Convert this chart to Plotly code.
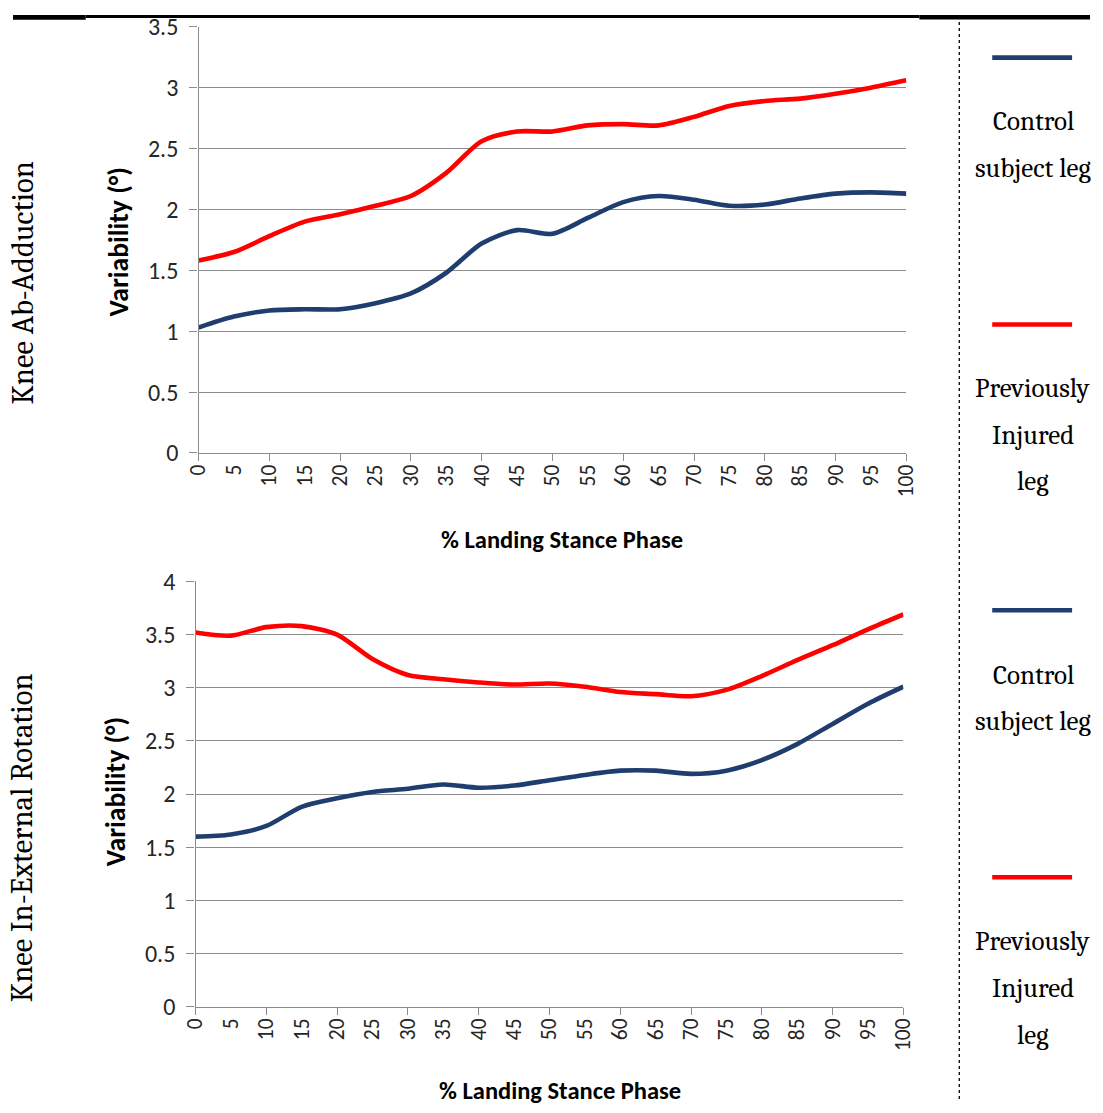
import plotly.graph_objects as go

phase = list(range(0, 101, 5))
x_tick_labels = [str(v) for v in phase]

abad_control = [1.03, 1.12, 1.17, 1.18, 1.18, 1.23, 1.31, 1.48, 1.72, 1.83, 1.80,
                1.93, 2.06, 2.11, 2.08, 2.03, 2.04, 2.09, 2.13, 2.14, 2.13]
abad_injured = [1.58, 1.65, 1.78, 1.90, 1.96, 2.03, 2.11, 2.30, 2.56, 2.64, 2.64,
                2.69, 2.70, 2.69, 2.76, 2.85, 2.89, 2.91, 2.95, 3.00, 3.06]
rot_control = [1.60, 1.62, 1.70, 1.88, 1.96, 2.02, 2.05, 2.09, 2.06, 2.08, 2.13,
               2.18, 2.22, 2.22, 2.19, 2.22, 2.32, 2.47, 2.66, 2.85, 3.01]
rot_injured = [3.52, 3.49, 3.57, 3.58, 3.50, 3.27, 3.12, 3.08, 3.05, 3.03, 3.04,
               3.01, 2.96, 2.94, 2.92, 2.98, 3.11, 3.26, 3.40, 3.55, 3.69]

row_titles = ["Knee Ab-Adduction", "Knee In-External Rotation"]
y_title = "Variability (°)"
x_title = "% Landing Stance Phase"
legend_control = ["Control", "subject leg"]
legend_injured = ["Previously", "Injured", "leg"]

BLUE = "#1F3D6E"
RED = "#FF0000"
GRID = "#8C8C8C"
SANS = "Calibri, Carlito, Liberation Sans, Arial, sans-serif"
SERIF = "Cambria, Caladea, Liberation Serif, serif"

W, H = 1103, 1113
# the photographed page is shown slightly reduced with a small white border;
# layout positions are expressed in reference pixels and converted here
OFF, S = 12.2, 0.978

def PX(r):
    return (r - OFF) / S

def fx(r):
    return PX(r) / W

def fy(r):
    return 1 - PX(r) / H

def fs(v):
    return v / S

XTICKFONT = dict(family=SANS, size=fs(21), color="#262626")
YTICKFONT = dict(family=SANS, size=fs(23.5), color="#262626")
LW = fs(4.5)

fig = go.Figure()
for xs, ys, data, col in (("x", "y", abad_control, BLUE), ("x", "y", abad_injured, RED),
                          ("x2", "y2", rot_control, BLUE), ("x2", "y2", rot_injured, RED)):
    fig.add_trace(go.Scatter(x=phase, y=data, mode="lines",
                             line=dict(color=col, width=LW, shape="spline", smoothing=0.8),
                             xaxis=xs, yaxis=ys, showlegend=False, hoverinfo="skip"))

def xaxis(domain, anchor):
    return dict(domain=domain, anchor=anchor, range=[0, 100], tickvals=phase, ticktext=x_tick_labels,
                tickangle=-90, tickfont=XTICKFONT, showgrid=False, zeroline=False,
                showline=True, linecolor=GRID, linewidth=1.3, ticks="", ticklabelstandoff=2,
                minor=dict(tickvals=list(range(0, 101, 10)), ticks="outside", ticklen=fs(7),
                           tickcolor=GRID, showgrid=False))

def yaxis(domain, anchor, top):
    return dict(domain=domain, anchor=anchor, range=[0, top], dtick=0.5, tickfont=YTICKFONT,
                showgrid=True, gridcolor=GRID, gridwidth=1.2, zeroline=False,
                showline=True, linecolor=GRID, linewidth=1.3, ticks="outside", ticklen=fs(8),
                tickcolor=GRID, ticklabelstandoff=6)

fig.update_layout(
    width=W, height=H, margin=dict(l=0, r=0, t=0, b=0),
    paper_bgcolor="white", plot_bgcolor="white",
    xaxis=xaxis([fx(198), fx(907)], "y"),
    yaxis=yaxis([fy(452), fy(24)], "x", 3.5),
    xaxis2=xaxis([fx(195), fx(904)], "y2"),
    yaxis2=yaxis([fy(1008), fy(581)], "x2", 4),
)

ann = []
def add_text(text, rx, ry, size, family, bold=False, angle=0):
    ann.append(dict(text=f"<b>{text}</b>" if bold else text, x=fx(rx), y=fy(ry), xref="paper", yref="paper",
                    showarrow=False, textangle=angle, font=dict(size=size, family=family, color="#000000"),
                    xanchor="center", yanchor="middle"))

add_text(y_title, 118, 240, fs(27), SANS, True, -90)
add_text(y_title, 115, 792, fs(27), SANS, True, -90)
add_text(x_title, 562, 539, fs(24), SANS, True)
add_text(x_title, 560, 1093, fs(24), SANS, True)
add_text(row_titles[0], 22, 281, fs(30), SERIF, False, -90)
add_text(row_titles[1], 22, 838, fs(30), SERIF, False, -90)

for base in (0, 556):
    for i, t in enumerate(legend_control):
        add_text(t, 1034, base + 119 + 47 * i, 27, SERIF)
    for i, t in enumerate(legend_injured):
        add_text(t, 1034, base + 387 + 47 * i, 27, SERIF)

shapes = []
for ly, col in ((55, BLUE), (323, RED), (610, BLUE), (878, RED)):
    shapes.append(dict(type="line", xref="paper", yref="paper", x0=fx(993), x1=fx(1073),
                       y0=fy(ly), y1=fy(ly), line=dict(color=col, width=LW)))
shapes.append(dict(type="line", xref="paper", yref="paper", x0=fx(960), x1=fx(960), y0=0, y1=1,
                   line=dict(color="#000000", width=1.3, dash="dot")))
# top black rules (kept at the very top of the page)
shapes.append(dict(type="rect", xref="paper", yref="paper", x0=0, x1=fx(85), y0=1 - 5 / H, y1=1,
                   line=dict(width=0), fillcolor="#000000"))
shapes.append(dict(type="rect", xref="paper", yref="paper", x0=fx(85), x1=fx(920), y0=1 - 3 / H, y1=1,
                   line=dict(width=0), fillcolor="#000000"))
shapes.append(dict(type="rect", xref="paper", yref="paper", x0=fx(920), x1=1, y0=1 - 4.5 / H, y1=1,
                   line=dict(width=0), fillcolor="#000000"))

fig.update_layout(annotations=ann, shapes=shapes)
fig.write_html("out.html", config={"displayModeBar": False},
               post_script="document.body.style.margin='0';document.body.style.overflow='hidden';")
